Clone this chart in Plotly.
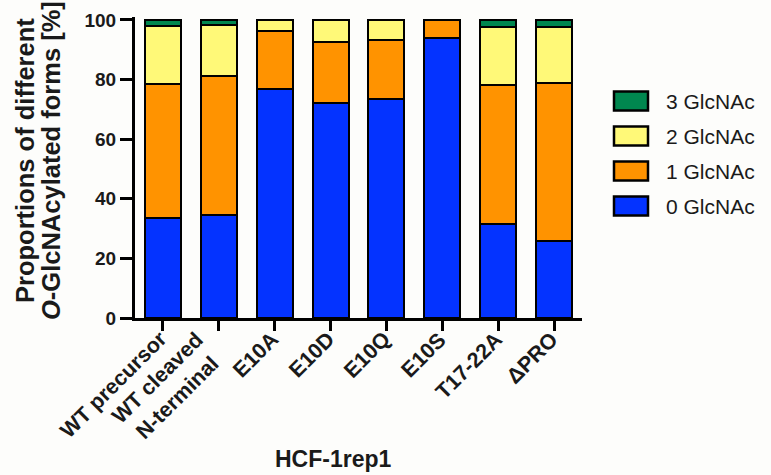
import plotly.graph_objects as go

categories = ["WT precursor", "WT cleaved<br>N-terminal", "E10A", "E10D", "E10Q", "E10S", "T17-22A", "ΔPRO"]
series_names = ["0 GlcNAc", "1 GlcNAc", "2 GlcNAc", "3 GlcNAc"]
glcnac0 = [33.6, 34.5, 76.8, 72.1, 73.5, 94.1, 31.5, 26.0]
glcnac1 = [44.9, 46.6, 19.6, 20.6, 19.8, 5.9, 46.7, 53.0]
glcnac2 = [19.5, 17.2, 3.6, 7.3, 6.7, 0.0, 19.3, 18.5]
glcnac3 = [2.0, 1.7, 0.0, 0.0, 0.0, 0.0, 2.5, 2.5]
series_values = [glcnac0, glcnac1, glcnac2, glcnac3]
colors = ["#0433FF", "#FF9300", "#FFF978", "#00874F"]
y_ticks = [0, 20, 40, 60, 80, 100]

FONT = "Liberation Sans, Arial, Helvetica, sans-serif"

fig = go.Figure()
for name, vals, col in zip(series_names, series_values, colors):
    fig.add_trace(go.Bar(
        x=categories, y=vals, name=name,
        marker=dict(color=col, line=dict(color="black", width=2)),
        showlegend=False,
    ))

L, R, T, B = 135, 189, 17, 157
W, H = 771, 475
pw, ph = W - L - R, H - T - B

def px_x(p):
    return (p - L) / pw

def px_y(p):
    return (H - B - p) / ph

shapes = []
annotations = []
# custom legend (top to bottom: 3,2,1,0)
row_centers = [101, 136, 171, 206]
for i, idx in enumerate([3, 2, 1, 0]):
    cy = row_centers[i]
    shapes.append(dict(type="rect", xref="paper", yref="paper",
                       x0=px_x(614), x1=px_x(648), y0=px_y(cy + 9.5), y1=px_y(cy - 9.5),
                       fillcolor=colors[idx], line=dict(color="black", width=2.5)))
    annotations.append(dict(xref="paper", yref="paper", x=px_x(664), y=px_y(cy),
                            xanchor="left", yanchor="middle", showarrow=False,
                            text=series_names[idx],
                            font=dict(family=FONT, size=21, color="#1a1a1a")))

# rotated category labels (placed at category index on the x axis)
for i, cat in enumerate(categories):
    annotations.append(dict(xref="x", yref="paper", x=i, y=px_y(326), xshift=10,
                            xanchor="right", yanchor="top", showarrow=False, textangle=-45,
                            align="center", borderpad=0, text=cat,
                            font=dict(family=FONT, size=21.5, color="#1a1a1a", weight="bold")))

# y-axis title in two lines
annotations.append(dict(xref="paper", yref="paper", x=0, y=px_y(161), xshift=-110,
                        xanchor="center", yanchor="middle", showarrow=False, textangle=-90,
                        text="Proportions of different",
                        font=dict(family=FONT, size=25.5, color="#1a1a1a", weight="bold")))
annotations.append(dict(xref="paper", yref="paper", x=0, y=px_y(161), xshift=-84,
                        xanchor="center", yanchor="middle", showarrow=False, textangle=-90,
                        text="<i>O</i>-GlcNAcylated forms [%]",
                        font=dict(family=FONT, size=25.5, color="#1a1a1a", weight="bold")))
# x-axis title
annotations.append(dict(xref="paper", yref="paper", x=px_x(333), y=px_y(459),
                        xanchor="center", yanchor="middle", showarrow=False,
                        text="HCF-1rep1",
                        font=dict(family=FONT, size=23, color="#1a1a1a", weight="bold")))

fig.update_layout(
    template="none",
    barmode="stack", bargap=0.355,
    width=W, height=H,
    margin=dict(l=L, r=R, t=T, b=B, pad=0, autoexpand=False),
    paper_bgcolor="#fdfdfb", plot_bgcolor="#fdfdfb",
    shapes=shapes, annotations=annotations,
    font=dict(family=FONT, color="black"),
)
fig.update_xaxes(
    type="category", categoryorder="array", categoryarray=categories,
    range=[-0.5, len(categories) - 0.5],
    automargin=False, showticklabels=False,
    showline=True, linecolor="black", linewidth=3,
    ticks="outside", ticklen=10, tickwidth=3, tickcolor="black",
    showgrid=False, zeroline=False,
)
fig.update_yaxes(
    automargin=False,
    range=[0, 101], tickvals=y_ticks,
    showline=True, linecolor="black", linewidth=3,
    ticks="outside", ticklen=12, tickwidth=3, tickcolor="black",
    tickfont=dict(family=FONT, size=19, color="#1a1a1a", weight="bold"),
    showgrid=False, zeroline=False,
)

fig.write_html("out.html", config={"displayModeBar": False},
               post_script="document.body.style.margin='0px';document.body.style.background='#fdfdfb';")
